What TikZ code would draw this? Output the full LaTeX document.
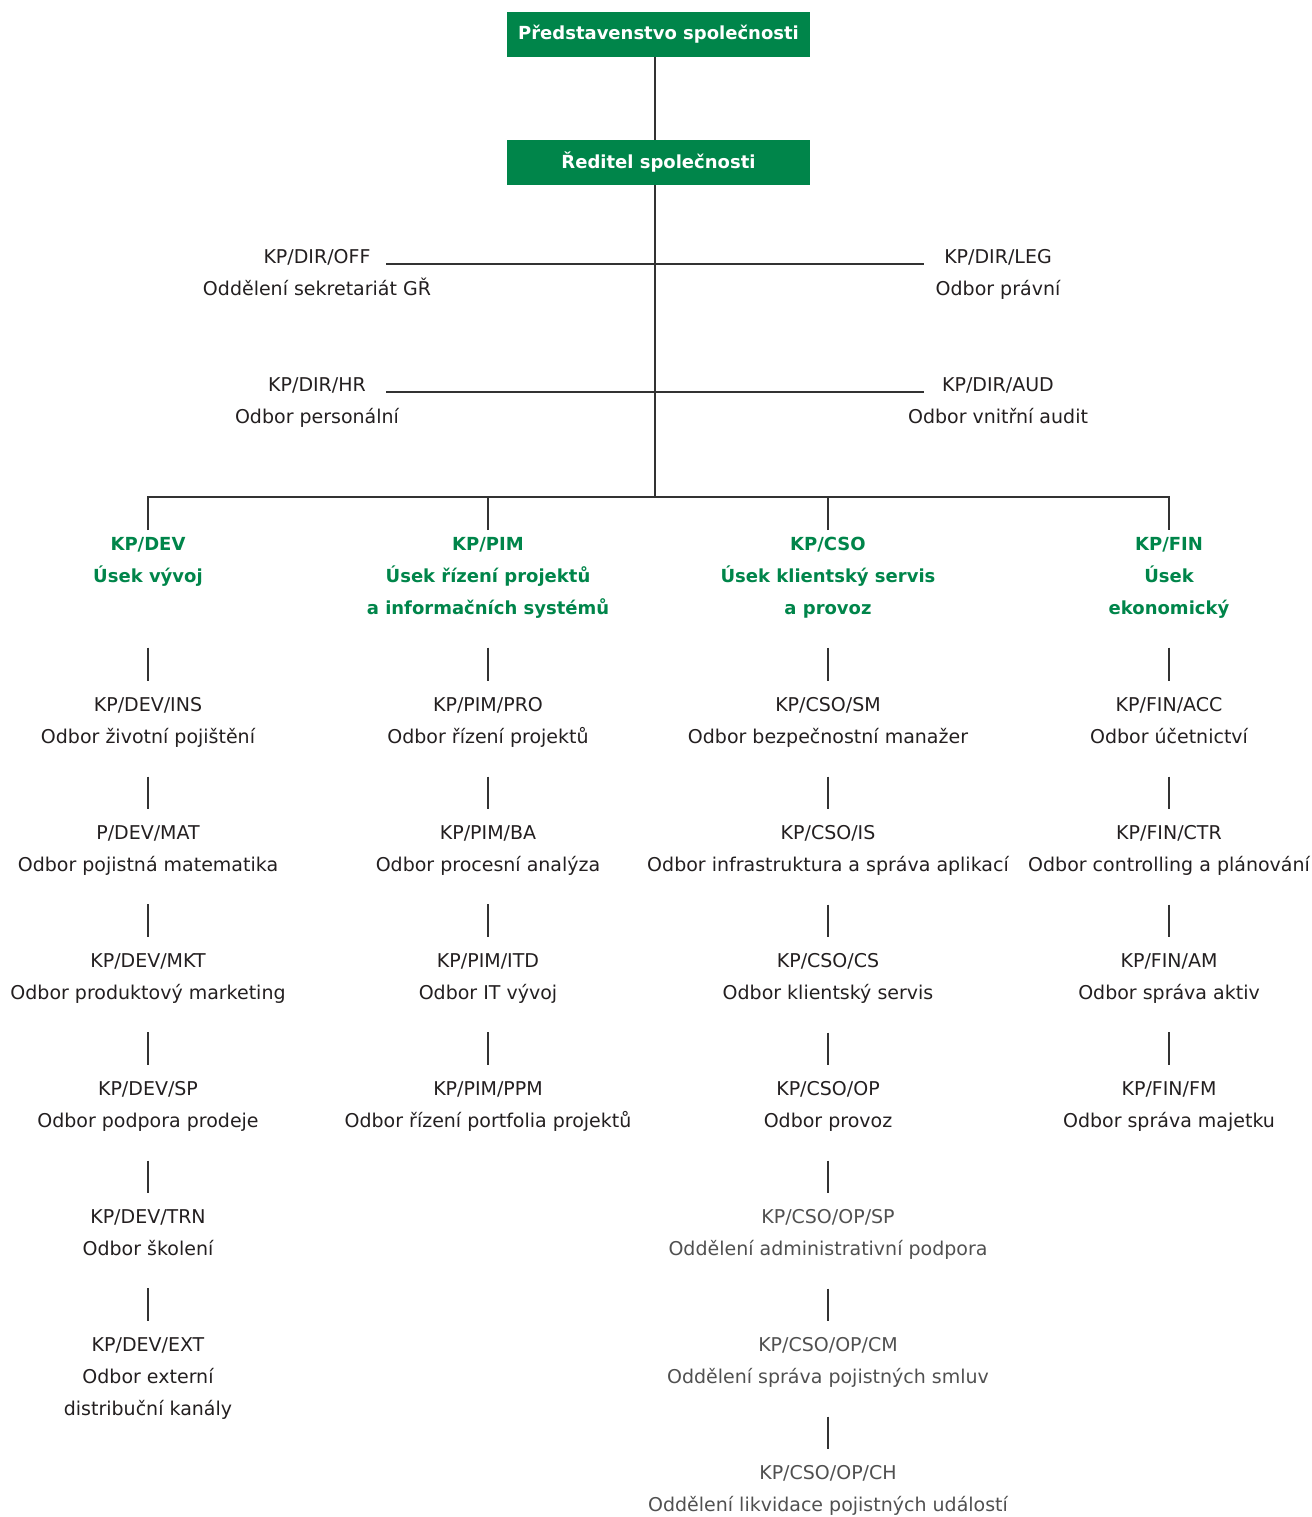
\documentclass[tikz,border=0pt]{standalone}
\usepackage{fontspec}
\setmainfont{DejaVu Sans}
\definecolor{kgreen}{RGB}{0,133,74}
\definecolor{ktext}{RGB}{35,31,32}
\definecolor{klight}{RGB}{80,80,80}
\definecolor{kline}{RGB}{50,50,50}
\newcommand\tstrut{\rule{0pt}{15pt}}
\newcommand\bstrut{\rule[-6pt]{0pt}{6pt}}
\tikzset{
  topbox/.style={fill=kgreen, text=white, font=\bfseries\fontsize{18}{22}\selectfont,
    minimum width=303pt, minimum height=45pt, inner sep=0pt},
  txt/.style={align=center, inner sep=0pt, anchor=north, text=ktext,
    font=\fontsize{19}{32}\selectfont,
    execute at begin node={\tstrut}, execute at end node={\bstrut}},
  lighttxt/.style={txt, text=klight},
  hdr/.style={txt, text=kgreen, font=\bfseries\fontsize{18}{32}\selectfont},
  conn/.style={draw=kline, line width=1.2pt},
  itemconn/.style={conn, shorten <=27pt, shorten >=16pt}
}
\begin{document}
\begin{tikzpicture}[x=1pt,y=-1pt]
\useasboundingbox (0,0) rectangle (1311,1517);

% top boxes
\node[topbox] (pr) at (658.5,34.5) {Představenstvo společnosti};
\node[topbox] (rd) at (658.5,162.5) {Ředitel společnosti};
\coordinate (bar) at (655,497);

% staff units
\node[txt] (off) at (317,249) {KP/DIR/OFF\\Oddělení sekretariát GŘ};
\node[txt] (leg) at (998,249) {KP/DIR/LEG\\Odbor právní};
\node[txt] (hr)  at (317,377) {KP/DIR/HR\\Odbor personální};
\node[txt] (aud) at (998,377) {KP/DIR/AUD\\Odbor vnitřní audit};
\coordinate (offE) at (386,264);
\coordinate (legW) at (924,264);
\coordinate (hrE) at (386,392);
\coordinate (audW) at (924,392);

% division headers
\node[hdr] (h1) at (148,537) {KP/DEV\\Úsek vývoj};
\node[hdr] (h2) at (488,537) {KP/PIM\\Úsek řízení projektů\\a informačních systémů};
\node[hdr] (h3) at (828,537) {KP/CSO\\Úsek klientský servis\\a provoz};
\node[hdr] (h4) at (1169,537) {KP/FIN\\Úsek\\ekonomický};

% DEV column
\node[txt] (a1) at (148,697) {KP/DEV/INS\\Odbor životní pojištění};
\node[txt] (a2) at (148,825) {P/DEV/MAT\\Odbor pojistná matematika};
\node[txt] (a3) at (148,953) {KP/DEV/MKT\\Odbor produktový marketing};
\node[txt] (a4) at (148,1081) {KP/DEV/SP\\Odbor podpora prodeje};
\node[txt] (a5) at (148,1209) {KP/DEV/TRN\\Odbor školení};
\node[txt] (a6) at (148,1337) {KP/DEV/EXT\\Odbor externí\\distribuční kanály};

% PIM column
\node[txt] (b1) at (488,697) {KP/PIM/PRO\\Odbor řízení projektů};
\node[txt] (b2) at (488,825) {KP/PIM/BA\\Odbor procesní analýza};
\node[txt] (b3) at (488,953) {KP/PIM/ITD\\Odbor IT vývoj};
\node[txt] (b4) at (488,1081) {KP/PIM/PPM\\Odbor řízení portfolia projektů};

% CSO column
\node[txt] (c1) at (828,697) {KP/CSO/SM\\Odbor bezpečnostní manažer};
\node[txt] (c2) at (828,825) {KP/CSO/IS\\Odbor infrastruktura a správa aplikací};
\node[txt] (c3) at (828,953) {KP/CSO/CS\\Odbor klientský servis};
\node[txt] (c4) at (828,1081) {KP/CSO/OP\\Odbor provoz};
\node[lighttxt] (c5) at (828,1209) {KP/CSO/OP/SP\\Oddělení administrativní podpora};
\node[lighttxt] (c6) at (828,1337) {KP/CSO/OP/CM\\Oddělení správa pojistných smluv};
\node[lighttxt] (c7) at (828,1465) {KP/CSO/OP/CH\\Oddělení likvidace pojistných událostí};

% FIN column
\node[txt] (d1) at (1169,697) {KP/FIN/ACC\\Odbor účetnictví};
\node[txt] (d2) at (1169,825) {KP/FIN/CTR\\Odbor controlling a plánování};
\node[txt] (d3) at (1169,953) {KP/FIN/AM\\Odbor správa aktiv};
\node[txt] (d4) at (1169,1081) {KP/FIN/FM\\Odbor správa majetku};

% main spine
\draw[conn] (bar |- pr.south) -- (bar |- rd.north);
\draw[conn] (bar |- rd.south) -- (bar);
\draw[conn] (offE) -- (legW);
\draw[conn] (hrE) -- (audW);

% distribution bar
\draw[conn] ([yshift=7pt]h1.north) |- (bar) -| ([yshift=7pt]h4.north);
\draw[conn] ([yshift=7pt]h2.north) -- (h2.north |- bar);
\draw[conn] ([yshift=7pt]h3.north) -- (h3.north |- bar);

% header to first item
\draw[conn, shorten <=59pt, shorten >=16pt] (h1.south) -- (a1.north);
\draw[itemconn] (h2.south) -- (b1.north);
\draw[itemconn] (h3.south) -- (c1.north);
\draw[itemconn] (h4.south) -- (d1.north);

% item chains
\foreach \u/\v in {a1/a2,a2/a3,a3/a4,a4/a5,a5/a6,
                   b1/b2,b2/b3,b3/b4,
                   c1/c2,c2/c3,c3/c4,c4/c5,c5/c6,c6/c7,
                   d1/d2,d2/d3,d3/d4}
  \draw[itemconn] (\u.south) -- (\v.north);
\end{tikzpicture}
\end{document}
